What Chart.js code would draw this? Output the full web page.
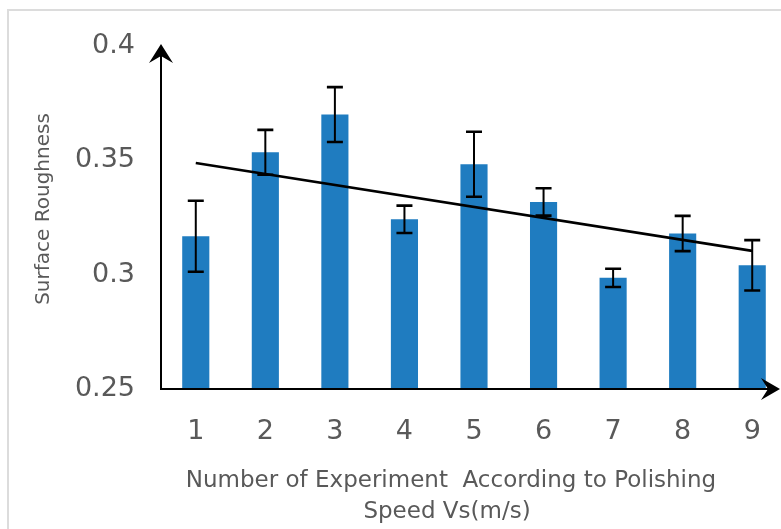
<!DOCTYPE html>
<html>
<head>
<meta charset="utf-8">
<script src="https://cdn.jsdelivr.net/npm/chart.js@4.4.1/dist/chart.umd.min.js"></script>
<style>
  html, body { margin: 0; padding: 0; background: #fff; overflow: hidden; }
  #frame { position: absolute; left: 7px; top: 9px; width: 900px; height: 900px; border: 2px solid #dcdcdc; }
  #chart { position: absolute; left: 0; top: 0; }
</style>
</head>
<body>
<div id="frame"></div>
<canvas id="chart" width="800" height="529"></canvas>
<script>
// Data
const experiments = ['1', '2', '3', '4', '5', '6', '7', '8', '9'];
const roughness = [0.3168, 0.3535, 0.3700, 0.3242, 0.3483, 0.3318, 0.2986, 0.3180, 0.3041];
const roughnessErr = [0.0155, 0.0098, 0.0120, 0.0060, 0.0142, 0.0060, 0.0040, 0.0077, 0.0110];
const trend = [0.3488, null, null, null, null, null, null, null, 0.3104];
const yTicks = [0.25, 0.3, 0.35, 0.4];

const textColor = '#595959';
const barColor = '#1f7cc0';
const fontFamily = '"DejaVu Sans"';

// error bars, axis arrows and axis titles
const decor = {
    id: 'decor',
    afterDatasetsDraw(chart) {
        const ctx = chart.ctx;
        const x = chart.scales.x;
        const y = chart.scales.y;
        ctx.save();
        ctx.strokeStyle = '#000';
        roughness.forEach((v, i) => {
            const cx = x.getPixelForValue(i);
            const top = y.getPixelForValue(v + roughnessErr[i]);
            const bot = y.getPixelForValue(v - roughnessErr[i]);
            ctx.lineWidth = 2;
            ctx.beginPath();
            ctx.moveTo(cx, top); ctx.lineTo(cx, bot);
            ctx.stroke();
            ctx.lineWidth = 2.6;
            ctx.beginPath();
            ctx.moveTo(cx - 8, top); ctx.lineTo(cx + 8, top);
            ctx.moveTo(cx - 8, bot); ctx.lineTo(cx + 8, bot);
            ctx.stroke();
        });
        ctx.restore();
    },
    afterDraw(chart) {
        const ctx = chart.ctx;
        const area = chart.chartArea;
        const x0 = area.left, y0 = area.bottom;
        const xEnd = 780, yEnd = 44;
        ctx.save();
        ctx.strokeStyle = '#000';
        ctx.fillStyle = '#000';
        ctx.lineWidth = 2;
        ctx.beginPath();
        ctx.moveTo(x0, y0); ctx.lineTo(x0, yEnd + 8);
        ctx.moveTo(x0 - 1, y0); ctx.lineTo(xEnd - 8, y0);
        ctx.stroke();
        // y arrow head
        ctx.beginPath();
        ctx.moveTo(x0, yEnd);
        ctx.lineTo(x0 - 12, yEnd + 19);
        ctx.lineTo(x0, yEnd + 12);
        ctx.lineTo(x0 + 12, yEnd + 19);
        ctx.closePath();
        ctx.fill();
        // x arrow head
        ctx.beginPath();
        ctx.moveTo(xEnd, y0);
        ctx.lineTo(xEnd - 19, y0 - 11);
        ctx.lineTo(xEnd - 12, y0);
        ctx.lineTo(xEnd - 19, y0 + 11);
        ctx.closePath();
        ctx.fill();

        ctx.fillStyle = textColor;
        ctx.textAlign = 'center';
        ctx.textBaseline = 'middle';
        ctx.font = '23px ' + fontFamily;
        ctx.fillText('Number of Experiment  According to Polishing', 451, 481);
        ctx.fillText('Speed Vs(m/s)', 447, 512);

        ctx.translate(44, 209);
        ctx.rotate(-Math.PI / 2);
        ctx.font = '20px ' + fontFamily;
        ctx.fillText('Surface Roughness', 0, 0);
        ctx.restore();
    }
};

new Chart(document.getElementById('chart'), {
    type: 'bar',
    data: {
        labels: experiments,
        datasets: [
            {
                type: 'line',
                data: trend,
                spanGaps: true,
                borderColor: '#000',
                borderWidth: 2.6,
                pointRadius: 0,
                fill: false,
                order: 0
            },
            {
                data: roughness,
                backgroundColor: barColor,
                barPercentage: 0.39,
                categoryPercentage: 1,
                order: 1
            }
        ]
    },
    options: {
        responsive: false,
        animation: false,
        layout: { padding: { top: 46, right: 13, bottom: 0, left: 0 } },
        plugins: {
            legend: { display: false },
            tooltip: { enabled: false }
        },
        scales: {
            x: {
                grid: { display: false, drawTicks: false },
                border: { display: false },
                afterFit: (scale) => { scale.height = 140; },
                ticks: {
                    color: textColor,
                    font: { family: 'DejaVu Sans', size: 27 },
                    padding: 27,
                    maxRotation: 0
                }
            },
            y: {
                min: 0.25,
                max: 0.4,
                grid: { display: false, drawTicks: false },
                border: { display: false },
                afterFit: (scale) => { scale.width = 161; },
                afterBuildTicks: (scale) => { scale.ticks = yTicks.map(v => ({ value: v })); },
                ticks: {
                    color: textColor,
                    font: { family: 'DejaVu Sans', size: 27 },
                    padding: 26,
                    callback: (v) => String(v)
                }
            }
        }
    },
    plugins: [decor]
});
</script>
</body>
</html>
